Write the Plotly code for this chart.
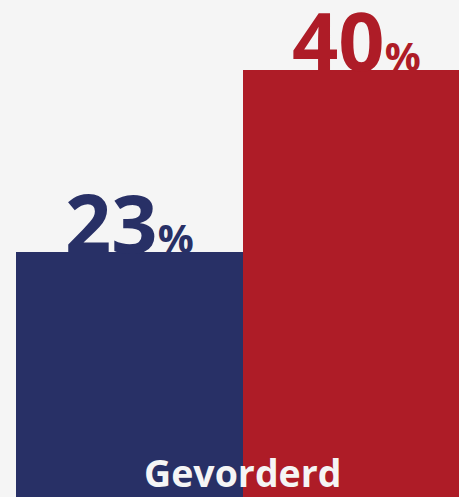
import plotly.graph_objects as go

categories = ["Gevorderd"]
series_names = ["A", "B"]
values = [23, 40]
colors = ["#283066", "#ae1c27"]
bg = "#f5f5f5"

fig = go.Figure()
for i, (name, v, c) in enumerate(zip(series_names, values, colors)):
    fig.add_trace(go.Bar(x=[i], y=[v], marker=dict(color=c, line=dict(width=0)),
                         width=1, name=name, showlegend=False, hoverinfo="skip"))
    fig.add_annotation(x=i, y=v, xref="x", yref="y", yanchor="bottom", showarrow=False,
                       text=f"{v}<span style='font-size:40px'>%</span>",
                       font=dict(family="Open Sans", size=81, color=c, weight=700),
                       yshift=-27)

fig.add_annotation(x=0.5, y=0, xref="x", yref="y", yanchor="bottom", showarrow=False,
                   text=categories[0],
                   font=dict(family="Open Sans", size=37.5, color=bg, weight=700),
                   yshift=-3)

fig.update_layout(
    width=459, height=497,
    margin=dict(l=16, r=0, t=0, b=0),
    paper_bgcolor=bg, plot_bgcolor=bg,
    bargap=0,
    xaxis=dict(visible=False, range=[-0.5, 1.452], fixedrange=True),
    yaxis=dict(visible=False, range=[0, 46.6], fixedrange=True),
)
fig.write_html("out.html", config={"displayModeBar": False},
               post_script="document.body.style.margin='0';document.body.style.background='%s';" % bg)
